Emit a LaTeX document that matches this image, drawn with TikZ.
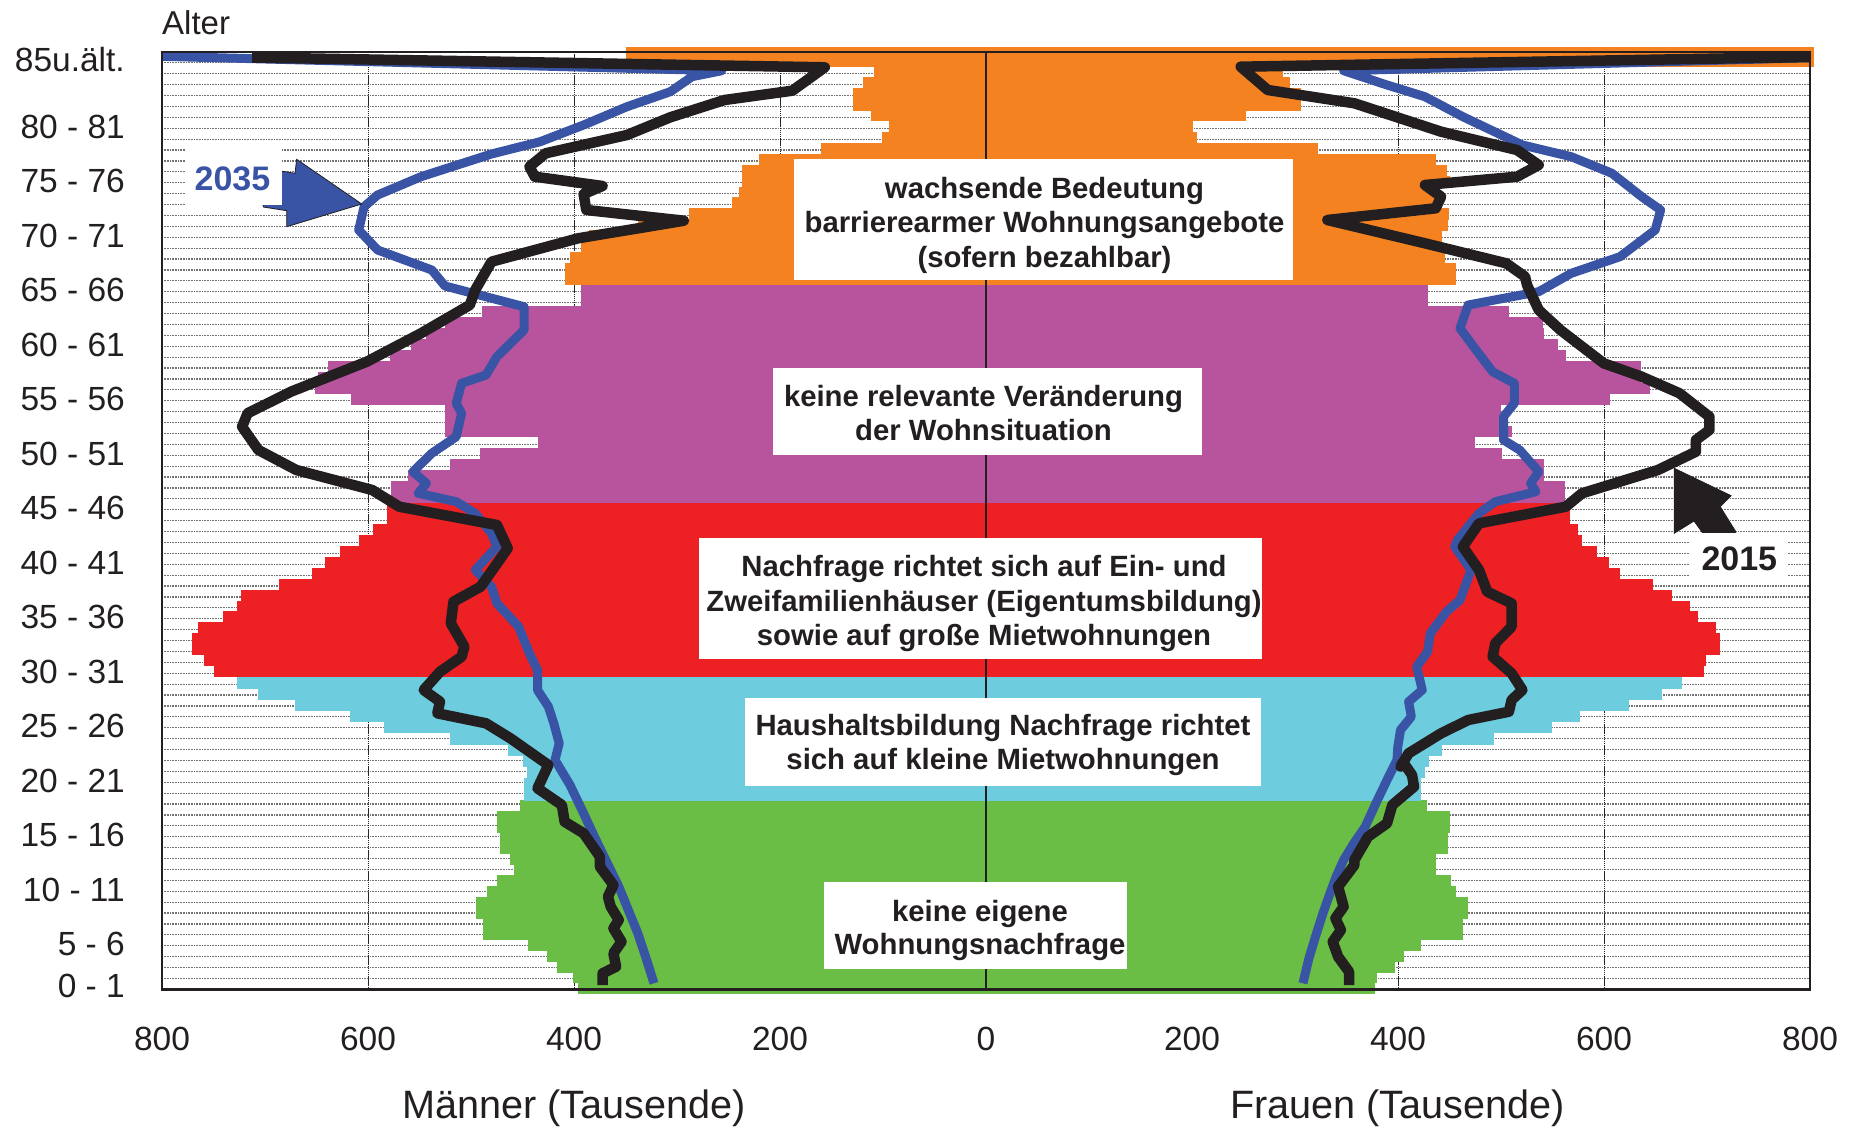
\documentclass[tikz,border=0pt]{standalone}
\usepackage{fontspec}
\setmainfont{Liberation Sans}
\definecolor{cOr}{RGB}{245,130,32}
\definecolor{cPu}{RGB}{184,83,158}
\definecolor{cRe}{RGB}{237,32,36}
\definecolor{cCy}{RGB}{109,204,221}
\definecolor{cGr}{RGB}{106,189,69}
\definecolor{cBl}{RGB}{57,84,165}
\definecolor{cBk}{RGB}{35,31,32}
\begin{document}
\begin{tikzpicture}[x=1pt,y=-1pt,
 hgrid/.style={draw=black!55, line width=1.2pt, dash pattern=on 1pt off 0.6pt},
 vgrid/.style={draw=black!85, line width=1pt, dash pattern=on 1.5pt off 0.6pt},
 agelab/.style={anchor=base east, inner sep=0pt, font=\fontsize{33.5}{40}\selectfont, text=cBk},
 ticklab/.style={anchor=base, inner sep=0pt, font=\fontsize{33.5}{40}\selectfont, text=cBk},
 axtitle/.style={anchor=base, inner sep=0pt, font=\fontsize{39.6}{46}\selectfont, text=cBk},
 btxt/.style={anchor=base, inner sep=0pt, font=\fontsize{29.3}{34}\selectfont\bfseries, text=cBk},
 yeartxt/.style={anchor=base, inner sep=0pt, font=\fontsize{34}{40}\selectfont\bfseries},
 line15/.style={draw=cBk, line width=10.5pt, line join=round},
 line35/.style={draw=cBl, line width=9pt, line join=round},
 wbox/.style={fill=white}
]
\useasboundingbox (0,0) rectangle (1857,1129);
\fill[white] (0,0) rectangle (1857,1129);

% grid
\foreach \k in {1,...,85} \draw[hgrid] (162,{989.3-10.9*\k}) -- (1810,{989.3-10.9*\k});
\foreach \x in {368,574,780,1192,1398,1604} \draw[vgrid] (\x,52) -- (\x,989.3);

% bars: green
\foreach \r/\l/\q in {0/578/1375,1/572.8/1377,2/556.5/1395,3/546.7/1404,4/528.3/1420.5,5/483.3/1462.8,6/483.3/1462.8,7/476.3/1468,8/476.3/1468,9/487/1456.3,10/496.9/1450.9,11/514.2/1435.7,12/510.4/1435.7,13/499.6/1447.6,14/499.6/1447.6,15/496.9/1450.3,16/496.9/1450.3,17/520.2/1426.5}
  \fill[cGr] (\l,{994-10.74*(\r+1)-0.4}) rectangle (\q,{994-10.74*\r});
% cyan
\foreach \r/\l/\q in {18/524/1420.5,19/524/1420.5,20/527/1425,21/522.9/1429.2,22/507.7/1442.2,23/449.7/1494.2,24/384.1/1552.2,25/349.5/1580.4,26/295.3/1629.2,27/258.4/1662.3,28/236.7/1682.3}
  \fill[cCy] (\l,{800.7-11.22*(\r-17)-0.4}) rectangle (\q,{800.7-11.22*(\r-18)});
% red
\foreach \r/\l/\q in {29/214/1704,30/204.2/1705.6,31/192.3/1720.2,32/192.3/1720.2,33/197.7/1716.4,34/223.2/1697.5,35/236.7/1690.4,36/241/1671.5,37/278.5/1652.5,38/311.5/1620,39/324.5/1609.1,40/339.7/1597.2,41/358.7/1582,42/373.3/1577.7,43/387.4/1570.1,44/387.4/1570}
  \fill[cRe] (\l,{677.3-10.9125*(\r-28)-0.4}) rectangle (\q,{677.3-10.9125*(\r-29)});
% purple
\foreach \r/\l/\q in {45/391.2/1564.7,46/391.2/1564.7,47/407.5/1544.1,48/449.7/1544.1,49/479.5/1501.8,50/537.5/1474.7,51/445.4/1511.6,52/445.4/1500.7,53/445.4/1500.7,54/350.5/1610.2,55/315.3/1649.8,56/318/1640.6,57/327.8/1640.6,58/390/1565.8,59/411.2/1557.6,60/426.4/1544.1,61/445.4/1543,62/481.7/1508.9,63/580.9/1427.6,64/580.9/1427.6}
  \fill[cPu] (\l,{502.7-10.885*(\r-44)-0.4}) rectangle (\q,{502.7-10.885*(\r-45)});
% orange
\foreach \r/\l/\q in {65/564.6/1456.3,66/564.6/1456.3,67/570/1445,68/581/1441.5,69/589/1442.2,70/637.8/1448.2,71/689.3/1449.3,72/731.7/1442.2,73/739.3/1434.6,74/741.7/1449.8,75/741.7/1446.5,76/759.3/1435.7,77/820.7/1317.5,78/881.7/1197.2,79/889.3/1193.4,80/870.7/1246,81/852.7/1301.3,82/852.7/1301.3,83/862.7/1290,84/874/1283}
  \fill[cOr] (\l,{285-10.9*(\r-64)-0.4}) rectangle (\q,{285-10.9*(\r-65)});
\fill[cOr] (626,46.7) rectangle (1814,67.2);

% centre axis
\draw[cBk, line width=2.8pt] (986,52) -- (986,989.3);

% population lines
\begin{scope}
\clip (162,50) rectangle (1810,989.3);
\draw[line35] plot coordinates {(110,55) (721.8,70.7) (692,76.7) (670.3,91.7) (627,106.7) (583.6,125) (540.2,141.7) (491.5,154) (421,176.7) (377.6,195) (364.1,206.7) (358.7,230) (377.6,250) (431.8,270) (445,286) (524,306.7) (524,330) (496.9,356.7) (486,375) (461.6,383.3) (456.2,403.3) (461.6,413.3) (456.2,436.7) (431.8,453.3) (412.9,471.7) (426.4,483.3) (418.3,493.3) (456.2,501.7) (475.2,513.3) (491.5,533.3) (496.9,546.7) (475.2,570) (491.5,586.7) (496.9,603.3) (518.6,626.7) (529.4,653.3) (537.5,670) (537.5,690) (548.4,706.7) (553.8,723.3) (559.2,743.3) (555,760) (570,785) (582,810) (594.4,836.7) (606.6,861.7) (618.8,886.7) (628.3,910) (637.8,933.3) (646,958) (654,983.3)};
\draw[line35] plot coordinates {(1870,56) (1343.6,70.7) (1387,85) (1424.9,96.7) (1462.8,116.7) (1522.4,145) (1571.2,156.7) (1611.9,173.3) (1641.7,196.7) (1660.6,210) (1655.2,230) (1620,256.7) (1571.2,273.3) (1538.7,291.7) (1468.2,305) (1460,328.3) (1473.6,346.7) (1492.6,371.7) (1514.3,383.3) (1514.3,403.3) (1503.5,416.7) (1503.5,440) (1519.7,450) (1538.7,471.7) (1530.6,483.3) (1536,491.7) (1495.3,501.7) (1479,513.3) (1457.4,540) (1454.7,546.7) (1471,570) (1460,600) (1446.5,611.7) (1430.3,633.3) (1427.6,651.7) (1416.7,666.7) (1422.2,690) (1408.6,701.7) (1411.3,716.7) (1400.5,730) (1397.8,746.7) (1397,760) (1387,780) (1376,803) (1365.2,826.7) (1354,843) (1343.6,860) (1336,877) (1330,893.3) (1323,913) (1316.5,933.3) (1309,958) (1302.9,983.3)};
\draw[line15] plot coordinates {(252,57.5) (824.8,67.3) (792.3,90.7) (724.5,100) (670.3,117.3) (627,135) (545.7,153.3) (529.4,166.7) (534.8,176.7) (602.6,186) (583.6,194) (586.3,210) (683.9,220.7) (578.2,238.3) (491.5,261.7) (475.2,290) (469.8,305) (421,333.3) (366.8,361.7) (290.9,391.7) (247.6,413.3) (242.1,426.7) (258.4,450) (296.3,470) (372.2,490) (399.3,506.7) (496.9,525) (507.7,548.3) (480.6,586.7) (453.5,601.7) (450.8,623.3) (464.4,646.7) (461.6,656.7) (440,671.7) (423.7,690) (440,701.7) (437.3,713.3) (486,723.3) (510.4,738.3) (548.4,765) (537.5,788.3) (561.9,805) (564.6,821.7) (583.6,833.3) (599.9,856.7) (599.9,866.7) (613.4,885) (608,896.7) (610.7,906.7) (618.8,920) (613.4,928.3) (621.5,941.7) (613.4,953.3) (616.1,966.7) (602.6,973.3) (602.6,985)};
\draw[line15] plot coordinates {(1812,57) (1240.6,66.7) (1267.7,90) (1354.4,103.3) (1441.1,131.7) (1517,150) (1538.7,165) (1517,176.7) (1424.9,185) (1441.1,196.7) (1435.7,208.3) (1327.3,220) (1424.9,243.3) (1506.2,263.3) (1525.1,276.7) (1527,285) (1538.7,310) (1560.4,330) (1603.7,363.3) (1641.7,376.7) (1679.6,393.3) (1709.4,416.7) (1709.4,430) (1695.9,440) (1695.9,451.7) (1657.9,470) (1582,493.3) (1565.8,506.7) (1479,523.3) (1462.8,546.7) (1479,570) (1487.2,591.7) (1511.6,603.3) (1511.6,626.7) (1495.3,643.3) (1492.6,656.7) (1511.6,673.3) (1522.4,690) (1511.6,700) (1508.9,711.7) (1468.2,720) (1441.1,733.3) (1408.6,753.3) (1400.5,766.7) (1403,762) (1412,775) (1414,786.7) (1392.3,805) (1387,823.3) (1368,836.7) (1354.4,860) (1354.4,865) (1338.1,886.7) (1343.6,906.7) (1335.4,918.3) (1340.9,930) (1332.7,941.7) (1338.1,956.7) (1349,971.7) (1349,985)};
\end{scope}

% text boxes
\fill[wbox] (794.3,159.3) rectangle (1293.3,280);
\node[btxt] (t1a) at (1044.5,198.3) {wachsende Bedeutung};
\node[btxt] (t1b) at (1044.5,232.7) {barrierearmer Wohnungsangebote};
\node[btxt] (t1c) at (1044.5,267) {(sofern bezahlbar)};

\fill[wbox] (773.3,367.7) rectangle (1201.6,455);
\node[btxt] (t2a) at (983.5,406) {keine relevante Veränderung};
\node[btxt] (t2b) at (983.5,440) {der Wohnsituation};

\fill[wbox] (698.5,538.3) rectangle (1262,659.3);
\node[btxt] (t3a) at (984,576) {Nachfrage richtet sich auf Ein- und};
\node[btxt] (t3b) at (984,611) {Zweifamilienhäuser (Eigentumsbildung)};
\node[btxt] (t3c) at (984,645) {sowie auf große Mietwohnungen};

\fill[wbox] (745.1,698.3) rectangle (1261.2,786);
\node[btxt] (t4a) at (1003,735) {Haushaltsbildung Nachfrage richtet};
\node[btxt] (t4b) at (1003,769.5) {sich auf kleine Mietwohnungen};

\fill[wbox] (823.7,881.7) rectangle (1126.5,969.3);
\node[btxt] (t5a) at (980,921) {keine eigene};
\node[btxt] (t5b) at (980,954) {Wohnungsnachfrage};

% year arrows and labels
\filldraw[fill=cBl, draw=cBk, line width=0.8pt] (361.7,204) -- (296.7,159.3) -- (295,173.3) -- (258,167.4) -- (263.3,207) -- (286.7,210.7) -- (286.7,226.7) -- cycle;
\fill[wbox] (185,146.7) rectangle (281.7,205);
\node[yeartxt, text=cBl] (y2035) at (232.5,190) {2035};

\filldraw[fill=cBk, draw=cBk, line width=0.8pt] (1674.2,468.3) -- (1731.1,495.7) -- (1720.2,506.7) -- (1736,532) -- (1712,546) -- (1694,521) -- (1674.2,533.3) -- cycle;
\fill[wbox] (1690,533) rectangle (1788,577);
\node[yeartxt, text=cBk] (y2015) at (1739.3,570) {2015};

% frame
\draw[cBk, line width=2.5pt] (162,52) rectangle (1810,989.3);

% axis labels
\node[anchor=base west, inner sep=0pt, font=\fontsize{33}{40}\selectfont, text=cBk] (alter) at (162,35) {Alter};
\node[agelab] (age85) at (125,71.7) {85u.ält.};
\foreach \t [count=\k from 0] in {80 - 81,75 - 76,70 - 71,65 - 66,60 - 61,55 - 56,50 - 51,45 - 46,40 - 41,35 - 36,30 - 31,25 - 26,20 - 21,15 - 16,10 - 11,5 - 6}
  \node[agelab] (age\k) at (125,{138.3+54.5*\k}) {\t};
\node[agelab] (age0) at (125,997) {0 - 1};

\foreach \v/\x [count=\k] in {800/162,600/368,400/574,200/780,0/986,200/1192,400/1398,600/1604,800/1810}
  \node[ticklab] (tick\k) at (\x,1050) {\v};
\node[axtitle] (men) at (574,1118.3) {Männer (Tausende)};
\node[axtitle] (women) at (1397.5,1118.3) {Frauen (Tausende)};
\end{tikzpicture}
\end{document}
